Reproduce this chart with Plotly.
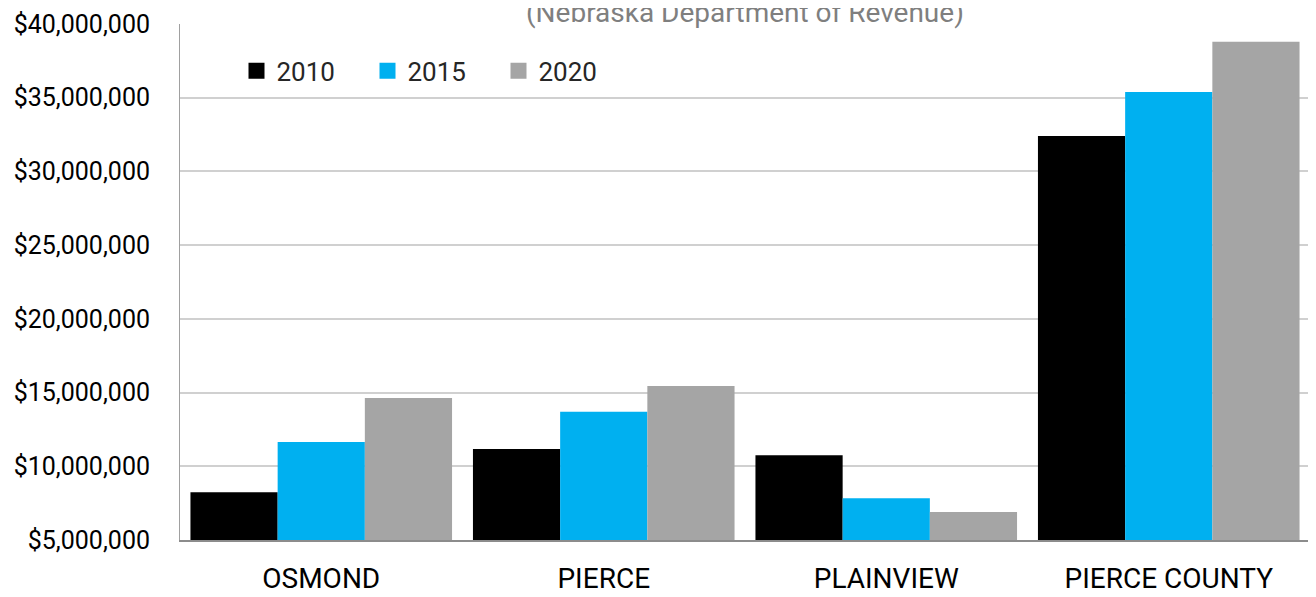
import plotly.graph_objects as go

# values (assessed valuation, dollars)
places = ['OSMOND', 'PIERCE', 'PLAINVIEW', 'PIERCE COUNTY']
years = ['2010', '2015', '2020']
values_2010 = [8240000, 11170000, 10750000, 32410000]
values_2015 = [11650000, 13700000, 7830000, 35390000]
values_2020 = [14630000, 15450000, 6900000, 38800000]
colors = ['#000000', '#00B0F0', '#A5A5A5']

FONT = 'Roboto'

fig = go.Figure()
for year, vals, color in zip(years, [values_2010, values_2015, values_2020], colors):
    fig.add_trace(go.Bar(x=places, y=vals, name=year, marker_color=color,
                         marker_line_width=0, showlegend=False))
    # bigger legend squares than the bar default
    fig.add_trace(go.Scatter(x=[None], y=[None], mode='markers', name=year,
                             marker=dict(symbol='square', size=16, color=color)))

# the page body adds an 8px offset, margins below make up for it
fig.update_layout(
    width=1316, height=597,
    margin=dict(l=172, r=14, t=16, b=65),
    paper_bgcolor='white', plot_bgcolor='white',
    barmode='group', bargap=0.074, bargroupgap=0,
    font=dict(family=FONT, size=24, color='#000000'),
    legend=dict(orientation='h', x=0.05, y=0.909, xanchor='left', yanchor='middle',
                font=dict(size=26, color='#262626'), bgcolor='rgba(0,0,0,0)',
                itemwidth=30, entrywidth=86, entrywidthmode='pixels'),
    annotations=[dict(text='(Nebraska Department of Revenue)', xref='paper', yref='paper',
                      x=0.5, y=1, yshift=12, xanchor='center', yanchor='middle',
                      showarrow=False, font=dict(family=FONT, size=28, color='#7f7f7f'))],
)
fig.update_xaxes(showline=True, linecolor='#8c8c8c', linewidth=1.5, automargin=False,
                 ticks='outside', ticklen=13, tickcolor='rgba(0,0,0,0)',
                 tickfont=dict(size=28, color='#000000'))
fig.update_yaxes(range=[5000000, 40000000], dtick=5000000, tickformat='$,.0f',
                 showline=True, linecolor='#a0a0a0', linewidth=1, automargin=False,
                 showgrid=True, gridcolor='#d0d0d0', gridwidth=1.5,
                 ticks='outside', ticklen=24, tickcolor='rgba(0,0,0,0)',
                 tickfont=dict(size=25, color='#000000'))

fig.write_html("out.html")
